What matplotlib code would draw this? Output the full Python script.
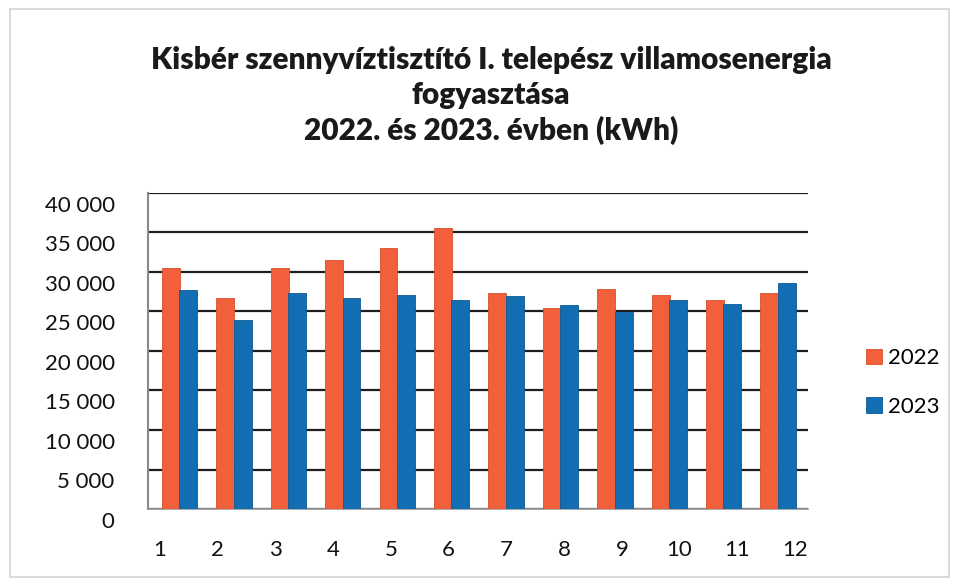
import numpy as np
import matplotlib
matplotlib.use("Agg")
import matplotlib.pyplot as plt
import matplotlib.transforms as mtransforms
from matplotlib.patches import Rectangle

plt.rcParams['font.family'] = ['Lato', 'DejaVu Sans']

months = ['1', '2', '3', '4', '5', '6', '7', '8', '9', '10', '11', '12']
kwh_2022 = [30500, 26700, 30500, 31500, 33000, 35600, 27300, 25500, 27900, 27100, 26400, 27400]
kwh_2023 = [27700, 23900, 27300, 26700, 27100, 26400, 27000, 25800, 24900, 26500, 26000, 28600]
yticks = [0, 5000, 10000, 15000, 20000, 25000, 30000, 35000, 40000]
ytick_labels = ['0', '5 000', '10 000', '15 000', '20 000', '25 000', '30 000', '35 000', '40 000']

c2022 = '#F1603A'
c2023 = '#126DB3'

fig = plt.figure(figsize=(9.57, 5.84), dpi=100)
fig.patches.append(Rectangle((0.010, 0.012), 0.982, 0.972, transform=fig.transFigure,
                             fill=False, edgecolor='#d4d4d4', lw=1.2))

ax = fig.add_axes([148/957, 75/584, 660/957, 316/584])
x = np.arange(1, 13)
w = 0.33
ax.bar(x - 0.16, kwh_2022, w, color=c2022, edgecolor='#d4502c', lw=0.6, label='2022', zorder=3)
ax.bar(x + 0.16, kwh_2023, w, color=c2023, edgecolor='#0d5a94', lw=0.6, label='2023', zorder=3)

ax.set_xlim(0.42, 12.55)
ax.set_ylim(0, 40000)
ax.set_yticks(yticks)
ax.set_yticklabels(ytick_labels, fontsize=16, color='#111111')
ax.set_xticks([])
ax.tick_params(axis='y', length=0, pad=24)

# 3D look of the original: value labels sit a bit lower than the back-wall gridlines
shift = mtransforms.ScaledTranslation(0, -11/100, fig.dpi_scale_trans)
for lbl in ax.get_yticklabels():
    lbl.set_transform(lbl.get_transform() + shift)

# category labels on the (wider) front edge of the 3D floor
axf = ax.twiny()
axf.set_xlim(0.792, 12.225)
axf.xaxis.set_ticks_position('bottom')
axf.set_xticks(x)
axf.set_xticklabels(months, fontsize=16, color='#111111')
axf.tick_params(axis='x', length=0, pad=22)
for s in axf.spines.values():
    s.set_visible(False)

ax.yaxis.grid(True, color='#1e1e1e', lw=1.6, zorder=0)
for s in ['top', 'right']:
    ax.spines[s].set_visible(False)
ax.spines['left'].set_color('#8a8a8a')
ax.spines['left'].set_linewidth(1.5)
ax.spines['bottom'].set_color('#9a9a9a')
ax.spines['bottom'].set_linewidth(1.2)

title_kw = dict(ha='center', va='center', fontsize=21.5, fontweight='heavy', color='#1a1a1a')
fig.text(491/957, 1 - 60/584, 'Kisbér szennyvíztisztító I. telepész villamosenergia', **title_kw)
fig.text(491/957, 1 - 95/584, 'fogyasztása', **title_kw)
fig.text(491/957, 1 - 130/584, '2022. és 2023. évben (kWh)', **title_kw)

ax.legend(loc='upper left', bbox_to_anchor=(855/957, 1 - 337/584), bbox_transform=fig.transFigure,
          frameon=False, fontsize=16, handlelength=0.7, handleheight=0.7,
          handletextpad=0.3, labelspacing=1.3, borderpad=0)

fig.savefig('out.png', dpi=100)
